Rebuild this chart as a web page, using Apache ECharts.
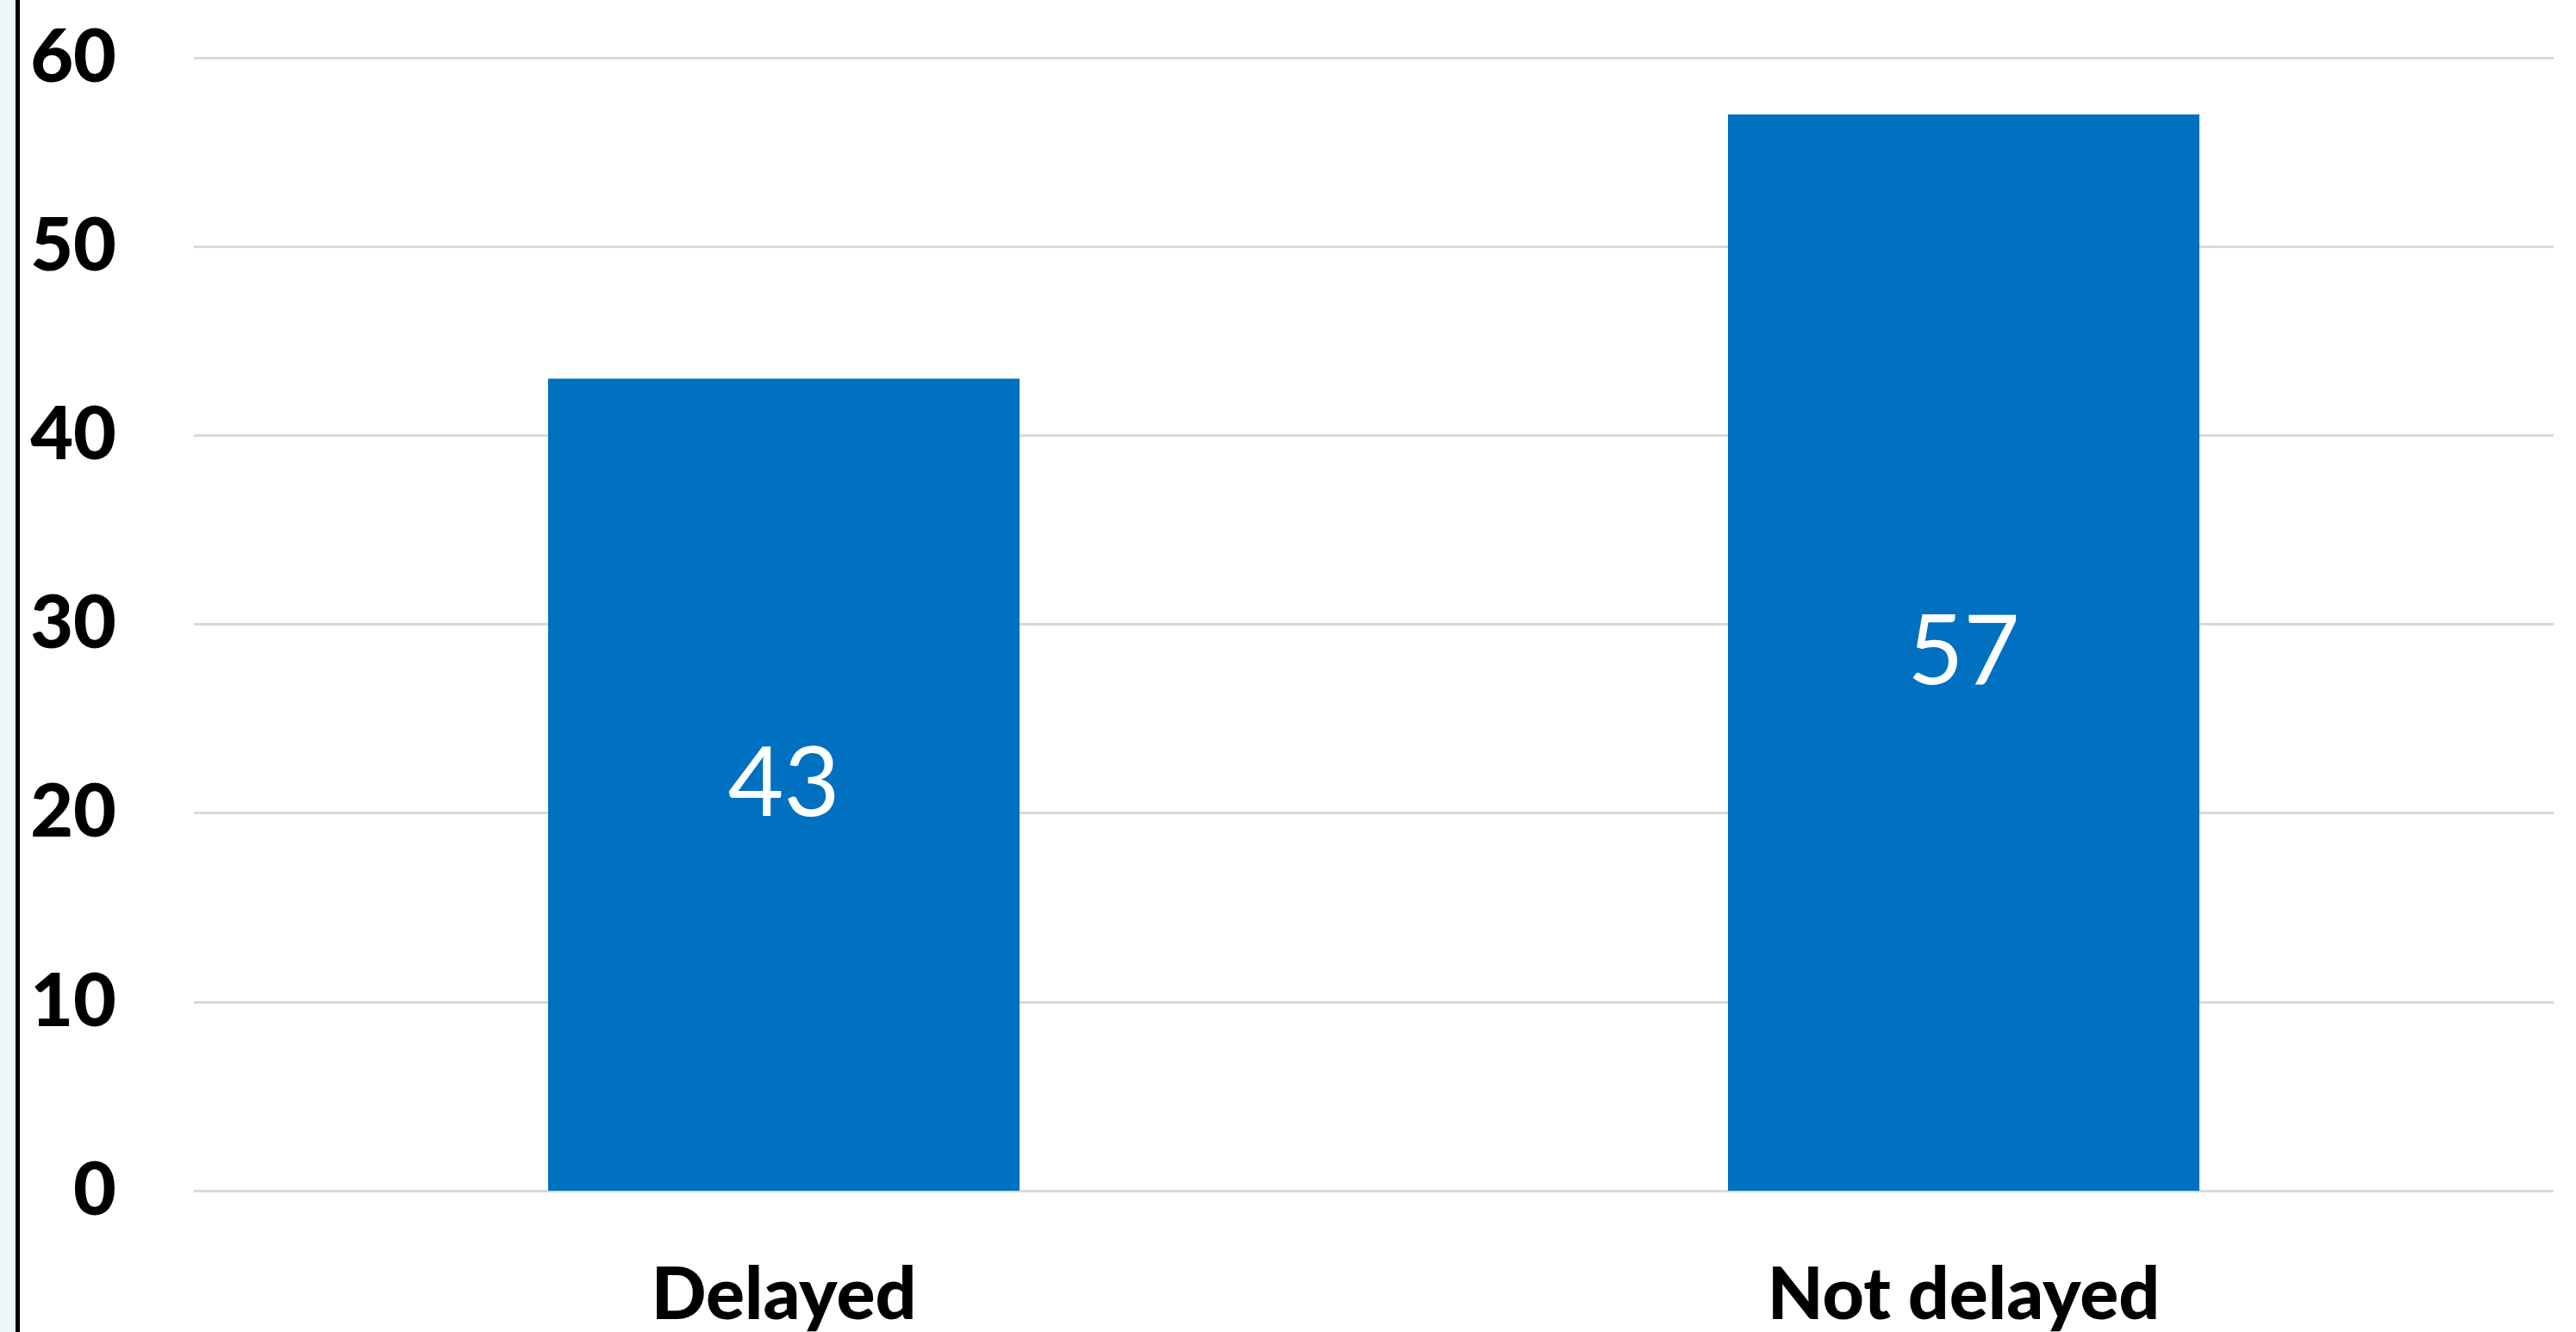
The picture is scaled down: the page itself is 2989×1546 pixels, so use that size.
<!DOCTYPE html>
<html>
<head>
<meta charset="utf-8">
<script src="https://cdn.jsdelivr.net/npm/echarts@6/dist/echarts.min.js"></script>
<style>
html,body{margin:0;padding:0;background:#fff;}
#chart{width:2989px;height:1546px;}
</style>
</head>
<body>
<div id="chart"></div>
<script>
var categories = ['Delayed', 'Not delayed'];
var values = [43, 57];
var yTicks = { min: 0, max: 60, interval: 10 };

var chart = echarts.init(document.getElementById('chart'), null, { renderer: 'canvas' });
chart.setOption({
  backgroundColor: '#ffffff',
  animation: false,
  graphic: [
    { type: 'rect', left: 0, top: 0, shape: { width: 18, height: 1546 }, style: { fill: '#EEF6F9' }, silent: true },
    { type: 'rect', left: 18, top: 0, shape: { width: 5, height: 1546 }, style: { fill: '#000000' }, silent: true }
  ],
  grid: { left: 225, right: 26, top: 67, bottom: 157, containLabel: false },
  xAxis: {
    type: 'category',
    data: categories,
    axisLine: { show: false },
    axisTick: { show: false },
    axisLabel: {
      color: '#000', fontFamily: 'Lato', fontWeight: 900, fontSize: 84,
      margin: 80, verticalAlign: 'top', lineHeight: 84
    }
  },
  yAxis: {
    type: 'value',
    min: yTicks.min, max: yTicks.max, interval: yTicks.interval,
    axisLine: { show: false },
    axisTick: { show: false },
    splitLine: { lineStyle: { color: '#D9D9D9', width: 3 } },
    axisLabel: {
      color: '#000', fontFamily: 'Lato', fontWeight: 900, fontSize: 86, margin: 90
    }
  },
  series: [{
    type: 'bar',
    data: values,
    barWidth: 547,
    itemStyle: { color: '#0070C0' },
    label: {
      show: true, position: 'inside', color: '#fff',
      fontFamily: 'Lato', fontSize: 112
    }
  }]
});
</script>
</body>
</html>
